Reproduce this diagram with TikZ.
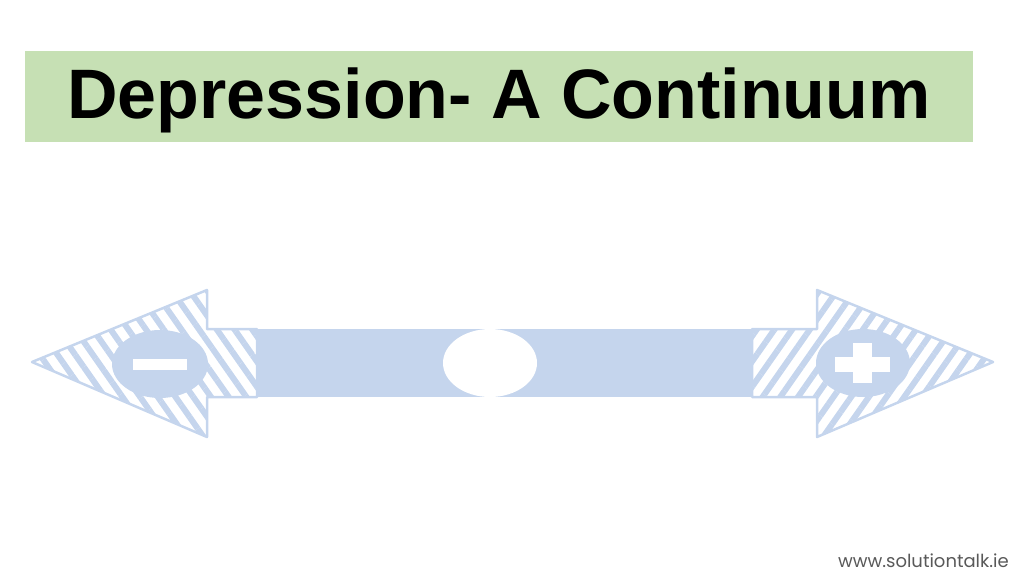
\documentclass[tikz,border=0pt]{standalone}
\usepackage{fontspec}
\setmainfont{Liberation Sans}
\newfontfamily\webfont{Poppins}
\usetikzlibrary{patterns.meta}
\definecolor{bannergreen}{RGB}{198,224,180}
\definecolor{axisblue}{RGB}{197,213,237}
\definecolor{webgray}{RGB}{89,89,89}
\tikzset{
  hatchleft/.style={draw=axisblue, line width=2.5pt, line join=round,
    pattern={Lines[angle=-55,distance=14.5pt,line width=6pt]}, pattern color=axisblue},
  hatchright/.style={draw=axisblue, line width=2.5pt, line join=round,
    pattern={Lines[angle=55,distance=14.5pt,line width=6pt]}, pattern color=axisblue},
}
\begin{document}
\begin{tikzpicture}[x=1pt,y=-1pt]
    \useasboundingbox (0,0) rectangle (1024,576);

    % title banner
    \fill[bannergreen] (25,51) rectangle (973,142);
    \node[font=\bfseries\fontsize{70}{70}\selectfont, inner sep=0pt, anchor=base] (title) at (499,118) {Depression- A Continuum};

    % hatched arrow heads
    \draw[hatchleft] (32,362) -- (207,290) -- (207,329) -- (257,329) -- (257,397) -- (207,397) -- (207,437) -- cycle;
    \draw[hatchright] (993,362) -- (817,290) -- (817,329) -- (752,329) -- (752,397) -- (817,397) -- (817,437) -- cycle;

    % solid shaft
    \fill[axisblue] (257,329) rectangle (752,397);

    % minus end
    \fill[axisblue] (160,364) ellipse [x radius=48, y radius=34];
    \fill[white] (133,359) rectangle (187,370);

    % plus end
    \fill[axisblue] (863,363) ellipse [x radius=47, y radius=34];
    \fill[white] (835,357) rectangle (890,372);
    \fill[white] (853,343) rectangle (872,383);

    % middle
    \fill[white] (490,363) ellipse [x radius=47, y radius=34];

    \node[font=\webfont\fontsize{18}{18}\selectfont, text=webgray, anchor=east, inner sep=0pt] (web) at (1009,561) {www.solutiontalk.ie};
\end{tikzpicture}
\end{document}
